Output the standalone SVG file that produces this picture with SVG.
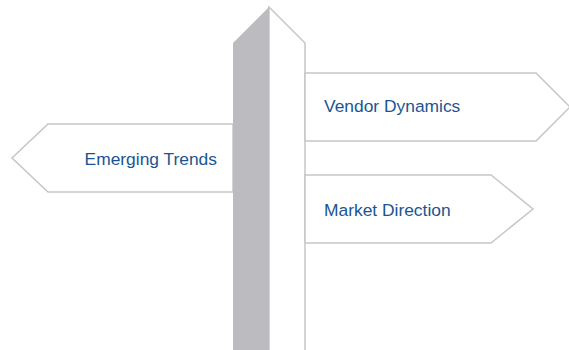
<svg xmlns="http://www.w3.org/2000/svg" width="569" height="350" viewBox="0 0 569 350">
<style>
.sign{fill:#ffffff;stroke:#c6c6c8;stroke-width:1.5;stroke-linejoin:miter}
.lbl{font-family:"Liberation Sans",Arial,sans-serif;font-size:17.4px;fill:#1b5591}
</style>
<rect width="569" height="350" fill="#ffffff"/>
<g id="post">
<polygon points="269,7 305,43 305,351 269,351" class="sign"/>
<polygon points="233,43 269,7 269,351 233,351" fill="#bcbcc0"/>
</g>
<g id="emerging-trends">
<polygon points="233,124 48,124 12,158 48,192 233,192" class="sign"/>
<rect x="233" y="120" width="4" height="76" fill="#bcbcc0"/>
<text x="217" y="165" text-anchor="end" class="lbl">Emerging Trends</text>
</g>
<g id="vendor-dynamics">
<polygon points="305,73 536,73 570,107 536,141 305,141" class="sign"/>
<text x="324" y="111.5" class="lbl">Vendor Dynamics</text>
</g>
<g id="market-direction">
<polygon points="305,175 491,175 533,209 491,243 305,243" class="sign"/>
<text x="324" y="215.5" class="lbl">Market Direction</text>
</g>
<g id="connectors"/>
</svg>
